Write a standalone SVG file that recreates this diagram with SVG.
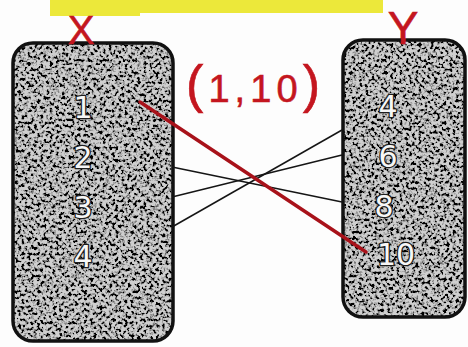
<svg xmlns="http://www.w3.org/2000/svg" width="468" height="347" viewBox="0 0 468 347">
<style>
.box{fill:#cfcfcf;filter:url(#grain)}
.edge{fill:none;stroke:#111;stroke-width:3.5}
.num{font-family:"DejaVu Sans",sans-serif;font-size:30px;fill:#f6f6f6;stroke:#1e1e1e;stroke-width:2.6;paint-order:stroke;stroke-linejoin:round;text-anchor:middle}
.hand{font-family:"Liberation Sans",sans-serif;fill:#c4161f;stroke:#c4161f;stroke-width:0.6}
.link{stroke:#151515;stroke-width:1.5;fill:none}
.red{stroke:#a8121a;stroke-width:3.5;fill:none;stroke-linecap:round}
</style>
<defs>
<filter id="grain" x="0" y="0" width="100%" height="100%">
<feTurbulence type="fractalNoise" baseFrequency="0.32" numOctaves="2" seed="7" result="n"/>
<feColorMatrix in="n" type="matrix" values="0 0 0 0 0  0 0 0 0 0  0 0 0 0 0  -5 0 0 0 2.8" result="dots"/>
<feComposite in="dots" in2="SourceGraphic" operator="in" result="d"/>
<feMerge><feMergeNode in="SourceGraphic"/><feMergeNode in="d"/></feMerge>
</filter>
</defs>
<rect width="468" height="347" fill="#fdfdfd"/>
<g id="banner">
<rect x="50" y="0" width="333" height="13" fill="#ece83a"/>
<rect x="50" y="10" width="90" height="6" fill="#ece83a"/>
</g>
<g id="nodeX">
<rect class="box" x="13" y="43" width="160" height="298" rx="20"/>
<rect class="edge" x="13" y="43" width="160" height="298" rx="20"/>
<text class="hand" x="81" y="44" font-size="40" text-anchor="middle">X</text>
<text class="num" x="83" y="118">1</text>
<text class="num" x="83" y="168">2</text>
<text class="num" x="83" y="218">3</text>
<text class="num" x="83" y="267">4</text>
</g>
<g id="nodeY">
<rect class="box" x="343" y="40" width="122" height="277" rx="20"/>
<rect class="edge" x="343" y="40" width="122" height="277" rx="20"/>
<text class="hand" x="403" y="44" font-size="46" text-anchor="middle">Y</text>
<text class="num" x="388" y="117">4</text>
<text class="num" x="388" y="167">6</text>
<text class="num" x="384" y="217">8</text>
<text class="num" x="396" y="265">10</text>
</g>
<g id="connectors">
<line class="link" x1="172" y1="167" x2="342" y2="202"/>
<line class="link" x1="172" y1="197" x2="342" y2="155"/>
<line class="link" x1="172" y1="227" x2="342" y2="130"/>
<line class="red" x1="140" y1="102" x2="366" y2="252"/>
</g>
<g id="label">
<text class="hand" x="186" y="102" font-size="38" textLength="134" lengthAdjust="spacing"><tspan font-size="52">(</tspan>1,10<tspan font-size="52">)</tspan></text>
</g>
</svg>
